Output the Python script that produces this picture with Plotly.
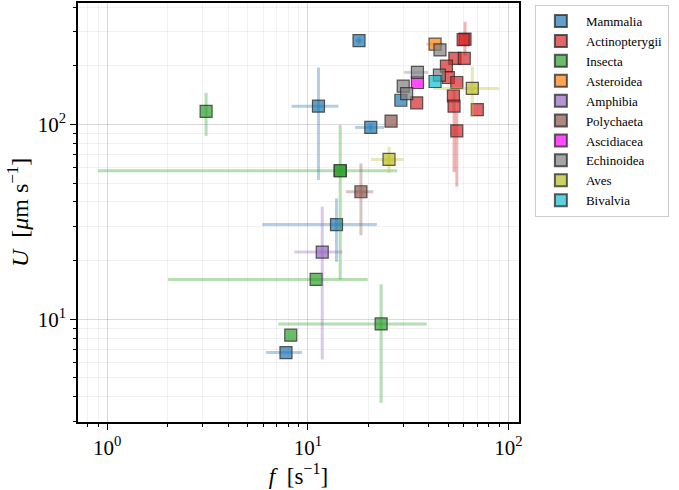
import plotly.graph_objects as go

# ---- data ----
classes = ["Mammalia", "Actinopterygii", "Insecta", "Asteroidea", "Amphibia",
           "Polychaeta", "Ascidiacea", "Echinoidea", "Aves", "Bivalvia"]
class_colors = ["#1f77b4", "#d62728", "#2ca02c", "#ff7f0e", "#9467bd",
                "#8c564b", "#ff00ff", "#7f7f7f", "#bcbd22", "#17becf"]

point_class = (["Mammalia"] * 6 + ["Actinopterygii"] * 12 + ["Insecta"] * 6 +
               ["Asteroidea"] + ["Amphibia"] + ["Polychaeta"] * 2 + ["Ascidiacea"] +
               ["Echinoidea"] * 5 + ["Aves"] * 2 + ["Bivalvia"])
f_vals = [18.0, 11.3, 20.6, 13.9, 7.78, 29.1,
          60.8, 59.5, 54.1, 60.3, 49.1, 50.2, 55.3, 53.2, 53.6, 70.0, 34.9, 55.3,
          3.11, 14.5, 14.5, 11.0, 8.22, 23.2,
          43.1,
          11.8,
          18.4, 26.0,
          35.2,
          35.2, 45.6, 29.9, 31.1, 45.3,
          66.1, 25.4,
          43.1]
U_vals = [269, 124, 96.5, 30.6, 6.74, 133,
          274, 272, 218, 218, 199, 174, 164, 140, 124, 119, 129, 92.7,
          116.6, 57.8, 57.8, 16.0, 8.28, 9.46,
          258,
          22.1,
          45.1, 104,
          164,
          185, 241, 157, 144, 179,
          153, 66.1,
          166]
f_low = [17.3, 8.3, 17.2, 5.93, 6.19, None,
         None, None, None, None, None, None, None, None, None, None, None, None,
         None, 0.90, None, 2.01, None, 7.13,
         38.9,
         8.57,
         15.5, None,
         None,
         30.2, None, None, None, None,
         42.3, 20.7,
         None]
f_high = [18.7, 14.2, 24.0, 22.1, 9.35, None,
          None, None, None, None, None, None, None, None, None, None, None, None,
          None, 27.9, None, 19.9, None, 39.2,
          47.0,
          14.9,
          21.2, None,
          None,
          39.8, None, None, None, None,
          89.9, 30.0,
          None]
U_low = [258, 51.8, 92.0, 19.7, None, None,
         225, None, None, None, None, None, None, None, 57.0, None, None, 48.0,
         87.3, None, 16.0, None, None, 3.72,
         None,
         6.21,
         27.0, None,
         None,
         None, None, None, None, None,
         109, 56.4,
         None]
U_high = [280, 196, 101, 41.7, None, None,
          336, None, None, None, None, None, None, None, 150, None, None, 115,
          145, None, 99.2, None, None, 15.1,
          None,
          37.8,
          63.1, None,
          None,
          None, None, None, None, None,
          198, 76.7,
          None]

x_tick_vals = [1, 10, 100]
x_tick_text = ["10<sup>0</sup>", "10<sup>1</sup>", "10<sup>2</sup>"]
y_tick_vals = [10, 100]
y_tick_text = ["10<sup>1</sup>", "10<sup>2</sup>"]


def rgba(hex_color, a):
    h = hex_color.lstrip("#")
    r, g, b = int(h[0:2], 16), int(h[2:4], 16), int(h[4:6], 16)
    return f"rgba({r},{g},{b},{a})"


fig = go.Figure()
for cls, col in zip(classes, class_colors):
    idx = [i for i, c in enumerate(point_class) if c == cls]
    xs = [f_vals[i] for i in idx]
    ys = [U_vals[i] for i in idx]
    ex_p = [(f_high[i] - f_vals[i]) if f_high[i] is not None else 0 for i in idx]
    ex_m = [(f_vals[i] - f_low[i]) if f_low[i] is not None else 0 for i in idx]
    ey_p = [(U_high[i] - U_vals[i]) if U_high[i] is not None else 0 for i in idx]
    ey_m = [(U_vals[i] - U_low[i]) if U_low[i] is not None else 0 for i in idx]
    fig.add_trace(go.Scatter(
        x=xs, y=ys, mode="markers", name=cls,
        marker=dict(symbol="square", size=12, color=rgba(col, 0.7),
                    line=dict(color="rgba(40,40,40,0.75)", width=1.2)),
        error_x=dict(type="data", symmetric=False, array=ex_p, arrayminus=ex_m,
                     color=rgba(col, 0.35), thickness=3, width=0),
        error_y=dict(type="data", symmetric=False, array=ey_p, arrayminus=ey_m,
                     color=rgba(col, 0.35), thickness=3, width=0),
    ))

xr = [-0.146, 2.053]
yr = [0.4725, 2.623]
minor_x = [k * 10 ** n for n in range(-1, 3) for k in range(2, 10)]
minor_y = [k * 10 ** n for n in range(0, 3) for k in range(2, 10)]

font_family = "Liberation Serif, DejaVu Serif, serif"
axis_common = dict(
    type="log", showline=True, linecolor="black", linewidth=1.5, mirror=True,
    ticks="outside", ticklen=6, tickwidth=1, tickcolor="black",
    showgrid=True, gridcolor="rgba(0,0,0,0.15)", gridwidth=1, zeroline=False,
    tickfont=dict(family=font_family, size=21, color="black"),
    automargin=False,
)
fig.update_xaxes(
    range=xr, tickmode="array", tickvals=x_tick_vals, ticktext=x_tick_text,
    minor=dict(tickmode="array", tickvals=minor_x, ticks="outside", ticklen=3,
               tickcolor="black", showgrid=True, gridcolor="rgba(0,0,0,0.05)"),
    title=dict(text="<i>f</i>  [s<sup>−1</sup>]", font=dict(family=font_family, size=23, color="black"),
               standoff=4),
    **axis_common)
fig.update_yaxes(
    range=yr, tickmode="array", tickvals=y_tick_vals, ticktext=y_tick_text,
    minor=dict(tickmode="array", tickvals=minor_y, ticks="outside", ticklen=3,
               tickcolor="black", showgrid=True, gridcolor="rgba(0,0,0,0.05)"),
    title=dict(text="<i>U</i>  [<i>μ</i>m s<sup>−1</sup>]", font=dict(family=font_family, size=24, color="black"),
               standoff=2),
    **axis_common)

fig.update_layout(
    width=679, height=490,
    margin=dict(l=78, r=160, t=3, b=68, pad=0),
    paper_bgcolor="white", plot_bgcolor="white",
    font=dict(family=font_family, color="black"),
    legend=dict(x=1.036, y=0.995, xanchor="left", yanchor="top",
                bordercolor="#cccccc", borderwidth=1, bgcolor="white",
                font=dict(family=font_family, size=13, color="black"),
                itemsizing="constant", itemwidth=40, tracegroupgap=0),
    showlegend=True,
)

fig.write_html("out.html", post_script="document.body.style.margin='0';",
               config={"displayModeBar": False})
